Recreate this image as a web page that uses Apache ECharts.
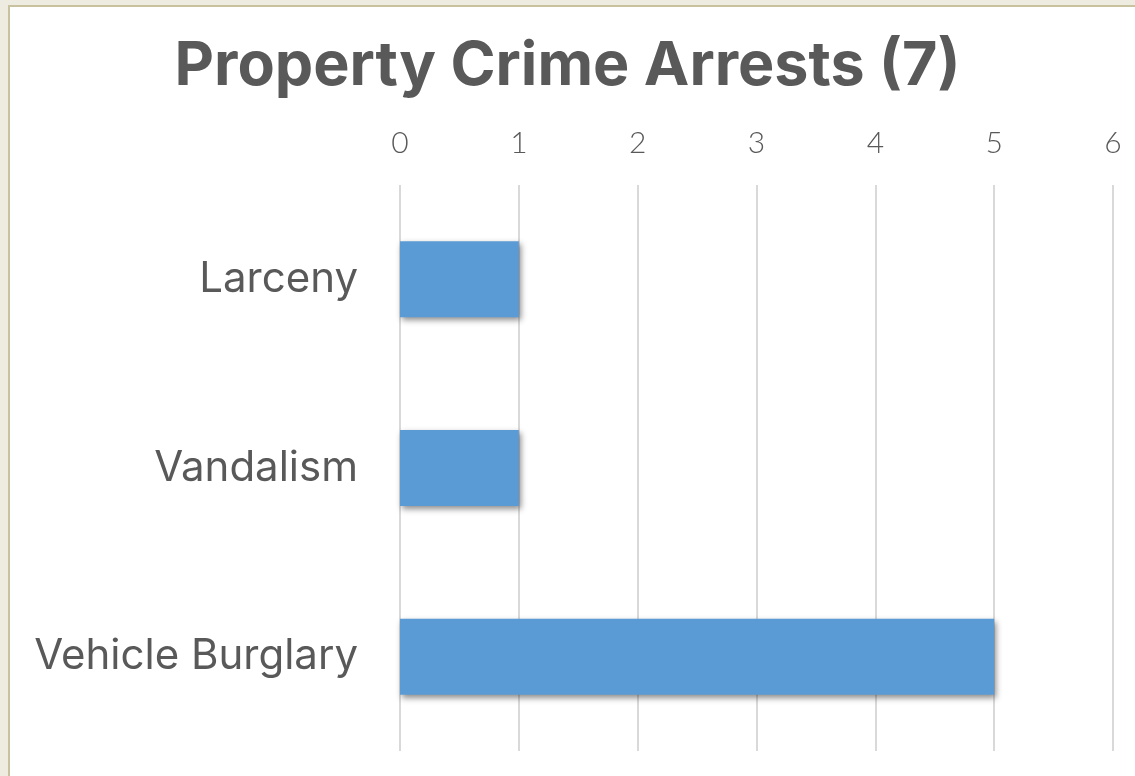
<!DOCTYPE html>
<html>
<head>
<meta charset="utf-8">
<script src="https://cdn.jsdelivr.net/npm/echarts@6/dist/echarts.min.js"></script>
<style>
    html, body { margin: 0; padding: 0; background: #EEEBE0; }
    #chart { width: 1135px; height: 776px; }
</style>
</head>
<body>
<div id="chart"></div>
<script>
// Données
const categories = ['Larceny', 'Vandalism', 'Vehicle Burglary'];
const arrests = [1, 1, 5];
const title = 'Property Crime Arrests (7)';

const chart = echarts.init(document.getElementById('chart'));
const options = {
    backgroundColor: 'transparent',
    textStyle: { fontFamily: 'Inter' },
    graphic: [
        {
            type: 'rect',
            z: -10,
            shape: { x: 9, y: 6, width: 1200, height: 900 },
            style: { fill: '#FFFFFF', stroke: '#C8C39E', lineWidth: 2 }
        }
    ],
    title: {
        text: title,
        left: 'center',
        top: 31,
        textStyle: {
            fontFamily: 'Inter',
            fontWeight: 'bold',
            fontSize: 61,
            color: '#595959'
        }
    },
    grid: {
        left: 400,
        right: 22,
        top: 185,
        bottom: 25,
        containLabel: false
    },
    xAxis: {
        type: 'value',
        position: 'top',
        min: 0,
        max: 6,
        interval: 1,
        axisLine: { show: false },
        axisTick: { show: false },
        axisLabel: {
            fontFamily: 'Lato',
            fontSize: 30,
            fontWeight: 300,
            color: '#595959',
            margin: 27
        },
        splitLine: { lineStyle: { color: '#D9D9D9', width: 2 } }
    },
    yAxis: {
        type: 'category',
        inverse: true,
        data: categories,
        axisLine: { show: false },
        axisTick: { show: false },
        axisLabel: {
            fontSize: 42,
            color: '#595959',
            margin: 42
        }
    },
    series: [
        {
            type: 'bar',
            data: arrests,
            barWidth: 76,
            itemStyle: {
                color: '#5B9BD5',
                shadowColor: 'rgba(0, 0, 0, 0.45)',
                shadowBlur: 6,
                shadowOffsetX: 2,
                shadowOffsetY: 3
            }
        }
    ]
};
chart.setOption(options);
</script>
</body>
</html>
